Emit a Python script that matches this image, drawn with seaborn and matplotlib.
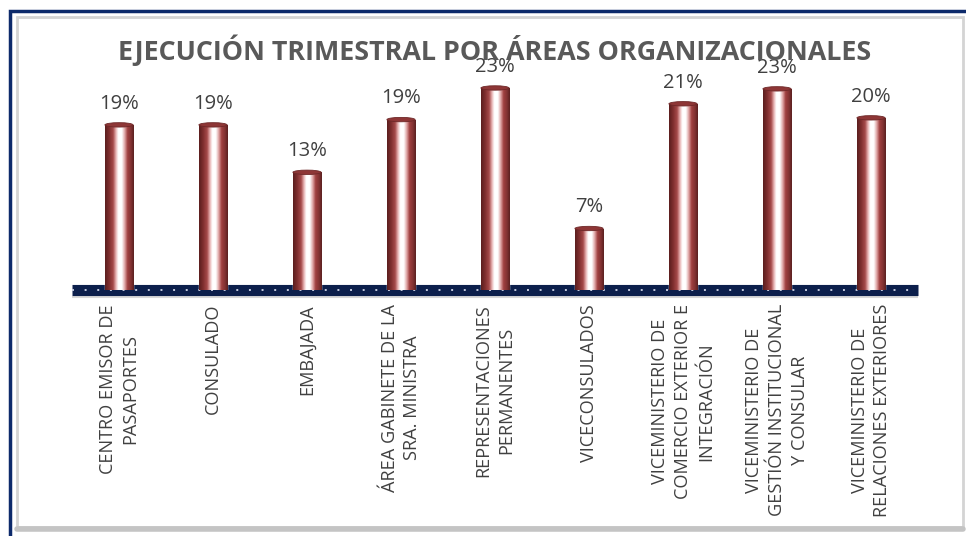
import numpy as np
import matplotlib.pyplot as plt
import seaborn as sns
from matplotlib.colors import LinearSegmentedColormap
from matplotlib.patches import Rectangle, Ellipse
from matplotlib.lines import Line2D

# datos (% de ejecucion)
areas = [
    'CENTRO EMISOR DE\nPASAPORTES',
    'CONSULADO',
    'EMBAJADA',
    'ÁREA GABINETE DE LA\nSRA. MINISTRA',
    'REPRESENTACIONES\nPERMANENTES',
    'VICECONSULADOS',
    'VICEMINISTERIO DE\nCOMERCIO EXTERIOR E\nINTEGRACIÓN',
    'VICEMINISTERIO DE\nGESTIÓN INSTITUCIONAL\nY CONSULAR',
    'VICEMINISTERIO DE\nRELACIONES EXTERIORES',
]
ejecucion = [18.8, 18.8, 13.4, 19.4, 23.0, 7.0, 21.2, 22.9, 19.6]

sns.set_style('white')
plt.rcParams['font.family'] = ['Open Sans', 'DejaVu Sans']

W, H = 966, 536
fig = plt.figure(figsize=(W / 100, H / 100), dpi=100)
ax = fig.add_axes([72 / W, 1 - 290 / H, 846 / W, 260 / H])
ax.set_facecolor('none')

sns.barplot(x=areas, y=ejecucion, color='#9c3a3a', width=0.30, ax=ax, zorder=3)

# cilindro: degradado horizontal
cyl = LinearSegmentedColormap.from_list('cyl', [
    (0.00, '#5a1e1e'), (0.14, '#7e2e2e'), (0.28, '#a54a4a'),
    (0.38, '#e8b4b4'), (0.46, '#ffffff'), (0.58, '#ffffff'),
    (0.68, '#e0a8a8'), (0.78, '#a04040'), (0.90, '#823232'), (1.00, '#5a2020')])
grad = np.linspace(0, 1, 256).reshape(1, -1)

for p, v in zip(ax.patches, ejecucion):
    x0, w, h = p.get_x(), p.get_width(), p.get_height()
    im = ax.imshow(grad, extent=[x0, x0 + w, 0, h], aspect='auto', cmap=cyl,
                   zorder=4, interpolation='bilinear')
    im.set_clip_path(p)
    ax.add_patch(Ellipse((x0 + w / 2, h), w, 0.5, facecolor='#8e3636',
                         edgecolor='#6e2828', lw=0.6, zorder=5))
    ax.annotate(f'{round(v)}%', (x0 + w / 2, h), xytext=(0, 8),
                textcoords='offset points', ha='center', va='bottom',
                fontsize=14.5, color='#404040', zorder=6)

ax.set_xlim(-0.5, 8.5)
ax.set_ylim(0, 29.6)
ax.set_yticks([])
sns.despine(ax=ax, left=True, bottom=True)

# piso azul con puntos
ax.axhline(0, color='#0c1f4c', lw=8, zorder=2, clip_on=False,
           solid_capstyle='butt')
ax.axhline(0, color='#c5cbe0', lw=1.4, ls=(0, (1, 5.5)), zorder=2, clip_on=False)
ax.axhline(-0.75, color='#d8d8d8', lw=1.5, zorder=1, clip_on=False,
           solid_capstyle='butt')

ax.tick_params(axis='x', length=0, pad=10, labelsize=13.1, labelcolor='#404040')
plt.setp(ax.get_xticklabels(), rotation=90, ha='center', va='top',
         multialignment='center', linespacing=1.35)

fig.text(495 / W, 1 - 50 / H, 'EJECUCIÓN TRIMESTRAL POR ÁREAS ORGANIZACIONALES',
         ha='center', va='center', fontsize=19.4, fontweight='bold', color='#595959')

# marco
fig.add_artist(Rectangle((17 / W, 1 - 527 / H), (963 - 17) / W, (527 - 17) / H,
                         transform=fig.transFigure, fill=False,
                         edgecolor='#d4d4d4', lw=2))
fig.add_artist(Line2D([17 / W, 963 / W], [1 - 529 / H, 1 - 529 / H],
                      transform=fig.transFigure, color='#c4c4c4', lw=4))
fig.add_artist(Rectangle((9.5 / W, -0.2), 1.2, (H - 10.5) / H + 0.2,
                         transform=fig.transFigure, fill=False,
                         edgecolor='#0d2a6b', lw=2.5))

fig.savefig('out.png', dpi=100)
